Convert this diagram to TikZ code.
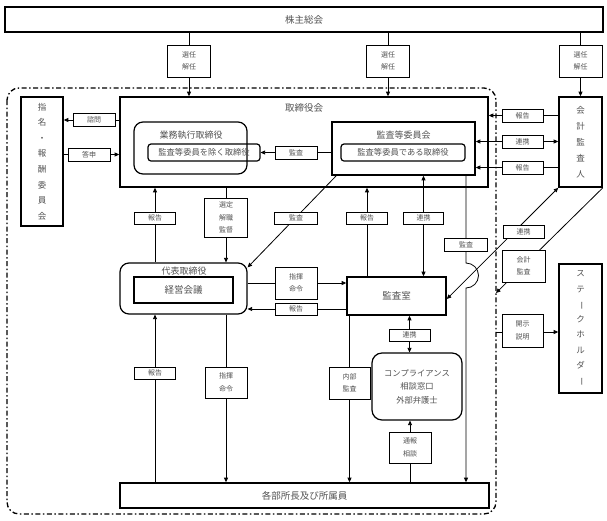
\documentclass[tikz,border=0pt]{standalone}
\usepackage{fontspec}
\setmainfont{Noto Sans CJK JP}
\usetikzlibrary{arrows.meta,backgrounds}
\begin{document}
\begin{tikzpicture}[x=1pt,y=-1pt,
  every node/.style={text=black!68},
  tbox/.style={draw=black, line width=1.6pt, inner sep=0pt, align=center, font=\fontsize{9}{11}\selectfont},
  rbox/.style={draw=black, line width=1.2pt, rounded corners=9pt, inner sep=0pt, align=center, font=\fontsize{9}{11}\selectfont},
  sbox/.style={draw=black, line width=1.2pt, rounded corners=3pt, inner sep=0pt, minimum height=17pt, font=\fontsize{8.3}{10}\selectfont},
  lbl/.style={draw=black, line width=0.7pt, fill=white, inner sep=0pt, align=center, font=\fontsize{7}{12.5}\selectfont},
  ttl/.style={inner sep=0pt, font=\fontsize{9}{11}\selectfont},
  conn/.style={draw=black, line width=0.8pt},
  arr/.style={conn, -{Triangle[length=4.5pt,width=4pt]}},
  darr/.style={conn, {Triangle[length=4.5pt,width=4pt]}-{Triangle[length=4.5pt,width=4pt]}},
  dashframe/.style={draw=black, line width=1.3pt, rounded corners=12pt, dash pattern=on 5pt off 2.5pt on 1.5pt off 2.5pt},
]
\useasboundingbox (0,0) rectangle (607,520);

% top
\node[tbox, minimum width=598pt, minimum height=25pt, font=\fontsize{9.5}{11}\selectfont] (kabu) at (304,19.5) {株主総会};
\node[lbl, minimum width=43pt, minimum height=32pt] (sen1) at (189,61) {選任\\解任};
\node[lbl, minimum width=43pt, minimum height=32pt] (sen2) at (388,61) {選任\\解任};
\node[lbl, minimum width=43pt, minimum height=32pt] (sen3) at (580.5,61) {選任\\解任};

% board
\node[tbox, minimum width=368pt, minimum height=90pt] (tori) at (304,142) {};
\node[ttl, font=\fontsize{9.5}{11}\selectfont] (toriT) at (304,108) {取締役会};
\node[tbox, minimum width=42pt, minimum height=129pt, font=\fontsize{8.5}{15.6}\selectfont] (shimei) at (42,161.5) {指\\名\\・\\報\\酬\\委\\員\\会};
\node[lbl, minimum width=42pt, minimum height=13pt] (shimon) at (94,120) {諮問};
\node[lbl, minimum width=42pt, minimum height=13pt] (toshin) at (89,154.5) {答申};
\node[rbox, minimum width=113pt, minimum height=52pt] (gyomu) at (190.5,148) {};
\node[ttl] (gyomuT) at (191,135) {業務執行取締役};
\node[sbox, minimum width=112pt] (jogai) at (204,152.5) {監査等委員を除く取締役};
\node[tbox, minimum width=143pt, minimum height=53pt] (kiin) at (403.5,148.5) {};
\node[ttl] (kiinT) at (403.5,135) {監査等委員会};
\node[sbox, minimum width=124pt] (dearu) at (403,152.5) {監査等委員である取締役};
\node[lbl, minimum width=42pt, minimum height=13pt] (ks1) at (296,152.5) {監査};

% accounting auditor
\node[tbox, minimum width=43pt, minimum height=90pt, font=\fontsize{8.5}{16}\selectfont] (kaikei) at (580.5,142) {会\\計\\監\\査\\人};
\node[lbl, minimum width=41pt, minimum height=13pt] (hk1) at (522.5,115.5) {報告};
\node[lbl, minimum width=41pt, minimum height=13pt] (rk1) at (522.5,141.5) {連携};
\node[lbl, minimum width=41pt, minimum height=13pt] (hk2) at (522.5,167.5) {報告};

% row of labels under board
\node[lbl, minimum width=41pt, minimum height=12pt] (hk3) at (155,218) {報告};
\node[lbl, minimum width=43pt, minimum height=39pt] (sentei) at (226,217.5) {選定\\解職\\監督};
\node[lbl, minimum width=43pt, minimum height=12pt] (ks2) at (296,218) {監査};
\node[lbl, minimum width=41pt, minimum height=12pt] (hk4) at (367,218) {報告};
\node[lbl, minimum width=40pt, minimum height=12pt] (rk2) at (423.5,218) {連携};
\node[lbl, minimum width=43pt, minimum height=13pt] (ks3) at (466,244.5) {監査};

% representative director
\node[rbox, minimum width=127pt, minimum height=51pt] (daihyo) at (183.5,288.5) {};
\node[ttl] (daihyoT) at (184,271) {代表取締役};
\node[tbox, minimum width=99pt, minimum height=26pt, font=\fontsize{9.5}{11}\selectfont] (keiei) at (183.5,290) {経営会議};
\node[lbl, minimum width=42pt, minimum height=32pt] (shiki1) at (296,283) {指揮\\命令};
\node[lbl, minimum width=42pt, minimum height=12pt] (hk5) at (296,309) {報告};
\node[tbox, minimum width=99pt, minimum height=38pt, font=\fontsize{9.5}{11}\selectfont] (kanshitsu) at (396.5,296) {監査室};
\node[lbl, minimum width=41pt, minimum height=12pt] (rk3) at (409.5,335) {連携};
\node[rbox, rounded corners=10pt, minimum width=90pt, minimum height=67pt, font=\fontsize{8.3}{13.5}\selectfont] (compl) at (417,386.5) {コンプライアンス\\相談窓口\\外部弁護士};
\node[lbl, minimum width=42pt, minimum height=31pt] (tsuho) at (410,447.5) {通報\\相談};
\node[lbl, minimum width=41pt, minimum height=32pt] (naibu) at (349.5,383) {内部\\監査};
\node[lbl, minimum width=41pt, minimum height=12pt] (hk6) at (155,373) {報告};
\node[lbl, minimum width=42pt, minimum height=31pt] (shiki2) at (226,382.5) {指揮\\命令};
\node[tbox, minimum width=369pt, minimum height=25pt, font=\fontsize{9.5}{11}\selectfont] (kakubu) at (304.5,495.5) {各部所長及び所属員};

% right side
\node[lbl, minimum width=41pt, minimum height=13pt] (rk4) at (523.5,231.5) {連携};
\node[lbl, minimum width=43pt, minimum height=32pt] (kk) at (523.5,266) {会計\\監査};
\node[lbl, minimum width=41pt, minimum height=33pt] (kaiji) at (522.5,330.5) {開示\\説明};
\node[tbox, minimum width=43pt, minimum height=129pt, font=\fontsize{8.5}{15.3}\selectfont] (stake) at (580.5,328.5) {ス\\テ\\\rotatebox[origin=c]{-90}{ー}\\ク\\ホ\\ル\\ダ\\\rotatebox[origin=c]{-90}{ー}};

\coordinate (hop) at (466,263);
\coordinate (fa) at (496,293);
\coordinate (fb) at (496,332);

\begin{scope}[on background layer]
\fill[white] (0,0) rectangle (607,520);
\draw[dashframe] (7,88) rectangle (496,514);
% top connectors
\draw[conn] (kabu.south -| sen1) -- (sen1.north);
\draw[arr] (sen1.south) -- (tori.north -| sen1);
\draw[conn] (kabu.south -| sen2) -- (sen2.north);
\draw[arr] (sen2.south) -- (tori.north -| sen2);
\draw[conn] (kabu.south -| sen3) -- (sen3.north);
\draw[arr] (sen3.south) -- (kaikei.north);
% nomination committee
\draw[arr] (tori.west |- shimon) -- (shimei.east |- shimon);
\draw[arr] (shimei.east |- toshin) -- (tori.west |- toshin);
% inside board
\draw[arr] (kiin.west |- jogai.east) -- (jogai.east);
% accounting auditor
\draw[arr] (kaikei.west |- hk1) -- (tori.east |- hk1);
\draw[darr] (kiin.east |- rk1) -- (kaikei.west |- rk1);
\draw[arr] (kaikei.west |- hk2) -- (kiin.east |- hk2);
% under board
\draw[arr] (daihyo.north -| hk3) -- (tori.south -| hk3);
\draw[arr] (tori.south -| sentei) -- (daihyo.north -| sentei);
\draw[arr] ([xshift=5pt]kiin.south west) -- ([yshift=-5pt]daihyo.north east);
\draw[arr] (kanshitsu.north -| hk4) -- (tori.south -| hk4);
\draw[darr] (kiin.south -| rk2) -- (kanshitsu.north -| rk2);
\draw[arr] (kiin.south -| ks3) -- (hop) arc[start angle=90, end angle=-90, radius=12.5pt] -- (kakubu.north -| hop);
% representative / audit office
\draw[arr] (daihyo.east |- shiki1) -- (kanshitsu.west |- shiki1);
\draw[arr] (kanshitsu.west |- hk5) -- (daihyo.east |- hk5);
\draw[darr] (kanshitsu.south -| rk3) -- (compl.north -| rk3);
\draw[arr] (kakubu.north -| tsuho) -- (compl.south -| tsuho);
\draw[arr] (kanshitsu.south -| naibu) -- (kakubu.north -| naibu);
\draw[arr] (kakubu.north -| hk6) -- (daihyo.south -| hk6);
\draw[arr] (daihyo.south -| shiki2) -- (kakubu.north -| shiki2);
% right diagonals
\draw[darr] ([yshift=-3pt]kanshitsu.east) -- (kaikei.south west);
\draw[arr] (kaikei.south east) -- (fa);
\draw[arr] (fb) -- (stake.west |- fb);
\end{scope}
\end{tikzpicture}
\end{document}
